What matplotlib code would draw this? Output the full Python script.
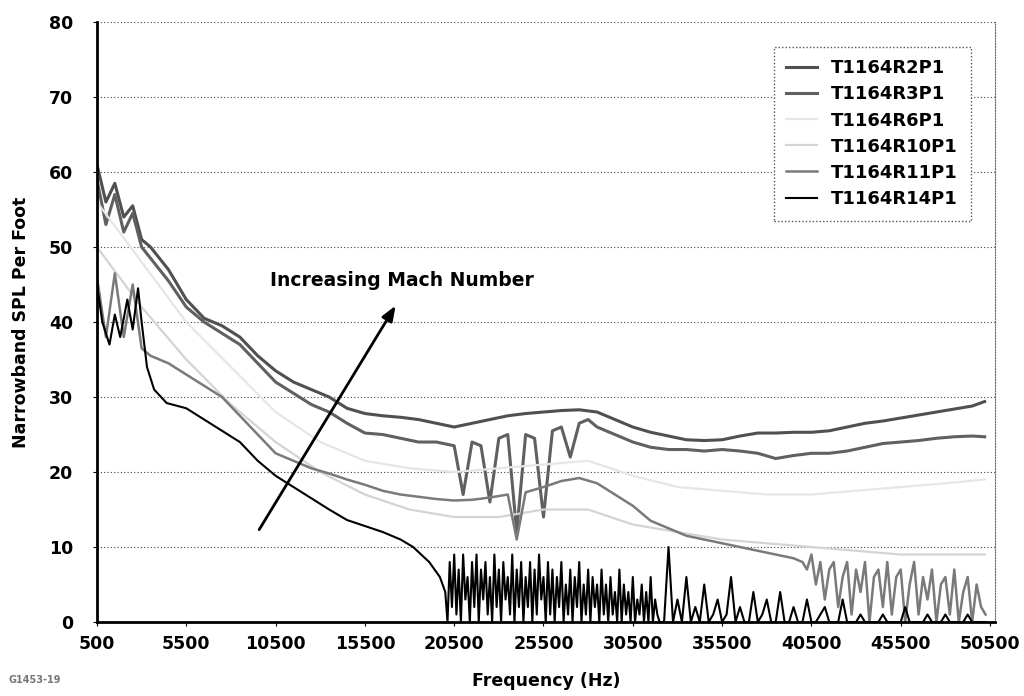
import numpy as np
import matplotlib
matplotlib.use("Agg")
import matplotlib.pyplot as plt

plt.rcParams['font.family'] = ['DejaVu Sans']
plt.rcParams['font.weight'] = 'bold'

# --- data (frequency in Hz, SPL) ---
f_top = [500, 1000, 1500, 2000, 2500, 3000, 3500, 4500, 5500, 6500, 7500, 8500, 9500,
         10500, 11500, 12500, 13500, 14500, 15500, 16500, 17500, 18500, 19500, 20500,
         21500, 22500, 23500, 24500, 25500, 26500, 27500, 28500, 29500, 30500, 31500,
         32500, 33500, 34500, 35500, 36500, 37500, 38500, 39500, 40500, 41500, 42500,
         43500, 44500, 45500, 46500, 47500, 48500, 49500, 50200]
r2p1 = [61, 56, 58.5, 54, 55.5, 51, 50, 47, 43, 40.5, 39.5, 38, 35.5,
        33.5, 32, 31, 30, 28.5, 27.8, 27.5, 27.3, 27, 26.5, 26,
        26.5, 27, 27.5, 27.8, 28, 28.2, 28.3, 28, 27, 26, 25.3,
        24.8, 24.3, 24.2, 24.3, 24.8, 25.2, 25.2, 25.3, 25.3, 25.5, 26,
        26.5, 26.8, 27.2, 27.6, 28, 28.4, 28.8, 29.4]

f_r3 = [500, 1000, 1500, 2000, 2500, 3000, 3500, 4500, 5500, 6500, 7500, 8500, 9500,
        10500, 11500, 12500, 13500, 14500, 15500, 16500, 17500, 18500, 19500, 20500,
        21000, 21500, 22000, 22500, 23000, 23500, 24000, 24500, 25000, 25500, 26000,
        26500, 27000, 27500, 28000, 28500, 29500, 30500, 31500, 32500, 33500, 34500,
        35500, 36500, 37500, 38500, 39500, 40500, 41500, 42500, 43500, 44500, 45500,
        46500, 47500, 48500, 49500, 50200]
r3p1 = [59, 53, 57, 52, 54.5, 50, 48.5, 45.5, 42, 40, 38.5, 37, 34.5,
        32, 30.5, 29, 28, 26.5, 25.2, 25, 24.5, 24, 24, 23.5,
        17, 24, 23.5, 16, 24.5, 25, 12, 25, 24.5, 14, 25.5,
        26, 22, 26.5, 27, 26, 25, 24, 23.3, 23, 23, 22.8,
        23, 22.8, 22.5, 21.8, 22.2, 22.5, 22.5, 22.8, 23.3, 23.8, 24,
        24.2, 24.5, 24.7, 24.8, 24.7]

f_light = [500, 3000, 5500, 8000, 10500, 13000, 15500, 18000, 20500, 23000, 25500,
           28000, 30500, 33000, 35500, 38000, 40500, 43000, 45500, 48000, 50200]
r6p1 = [56, 48, 40, 34, 28, 24, 21.5, 20.5, 20, 20.5, 21, 21.5, 19.5, 18, 17.5,
        17, 17, 17.5, 18, 18.5, 19]
r10p1 = [50, 42, 35, 29, 24, 20, 17, 15, 14, 14, 15, 15, 13, 12, 11, 10.5, 10,
         9.5, 9, 9, 9]

f_r11 = [500, 1000, 1500, 2000, 2500, 3000, 3500, 4500, 5500, 6500, 7500, 8500, 9500,
         10500, 11500, 12500, 13500, 14500, 15500, 16500, 17500, 18500, 19500, 20500,
         21500, 22500, 23500, 24000, 24500, 25500, 26500, 27500, 28500, 29500, 30500,
         31500, 32500, 33500, 34500, 35500, 36500, 37500, 38500, 39500]
r11_main = [46, 38, 46.5, 38, 45, 36.5, 35.5, 34.5, 33, 31.5, 30, 27.5, 25,
            22.5, 21.5, 20.5, 19.8, 19, 18.3, 17.5, 17, 16.7, 16.4, 16.2,
            16.3, 16.6, 17, 11, 17.3, 18, 18.8, 19.2, 18.5, 17, 15.5,
            13.5, 12.5, 11.5, 11, 10.5, 10, 9.5, 9, 8.5]
f_r11_tail = np.arange(40000, 50251, 250)
r11_tail = [8, 7, 9, 5, 8, 3, 7, 8, 2, 6, 8, 1, 7, 4, 8, 0, 6, 7, 2, 8, 1,
            6, 7, 0, 5, 8, 1, 6, 3, 7, 0, 5, 6, 1, 7, 0, 4, 6, 0, 5, 2, 1]

f_r14 = [500, 800, 1200, 1500, 1800, 2200, 2500, 2800, 3000, 3300, 3700, 4400, 5500,
         6300, 7500, 8500, 9500, 10500, 11500, 12500, 13500, 14500, 15500, 16500,
         17500, 18200, 19100, 19700]
r14_main = [45, 40, 37, 41, 38, 43, 39, 44.5, 40, 34, 31, 29.2, 28.5,
            27.3, 25.5, 24, 21.5, 19.5, 18, 16.5, 15, 13.6, 12.8, 12,
            11, 10, 8, 6]
f_r14_dense = np.arange(20000, 32001, 125)
r14_dense = [4, 0, 8, 2, 9, 1, 7, 0, 9, 3, 6, 0,
             8, 2, 9, 0, 7, 3, 8, 1, 6, 0, 9, 2,
             7, 0, 8, 3, 6, 1, 9, 0, 7, 2, 8, 0,
             6, 2, 8, 0, 7, 1, 9, 3, 6, 0, 8, 1,
             7, 0, 6, 2, 8, 0, 5, 1, 7, 0, 6, 2,
             8, 0, 5, 1, 7, 0, 6, 2, 5, 0, 7, 1,
             5, 0, 6, 1, 4, 0, 7, 0, 5, 1, 4, 0,
             6, 0, 3, 1, 5, 0, 4, 0, 6, 0, 3, 1,
             0]
f_r14_sparse = np.arange(32250, 50251, 250)
r14_sparse = [0, 10, 0, 3, 0, 6, 0, 2, 0, 5, 0, 1,
              3, 0, 1, 6, 0, 2, 0, 0, 4, 0, 1, 3,
              0, 0, 4, 0, 0, 2, 0, 0, 3, 0, 0, 1,
              2, 0, 0, 0, 3, 0, 0, 0, 1, 0, 0, 0,
              0, 1, 0, 0, 0, 0, 2, 0, 0, 0, 0, 1,
              0, 0, 0, 1, 0, 0, 0, 0, 1, 0, 0, 0,
              0]

x_ticks = [500, 5500, 10500, 15500, 20500, 25500, 30500, 35500, 40500, 45500, 50500]

fig = plt.figure(figsize=(10.24, 6.96), dpi=100)
ax = fig.add_axes([0.0947, 0.1063, 0.877, 0.862])

ax.plot(f_top, r2p1, color='#505050', lw=2.2, label='T1164R2P1')
ax.plot(f_r3, r3p1, color='#606060', lw=2.2, label='T1164R3P1')
ax.plot(f_light, r6p1, color='#e6e6e6', lw=1.6, label='T1164R6P1')
ax.plot(f_light, r10p1, color='#d4d4d4', lw=1.6, label='T1164R10P1')
ax.plot(list(f_r11) + list(f_r11_tail), r11_main + r11_tail,
        color='#7a7a7a', lw=1.8, label='T1164R11P1')
ax.plot(list(f_r14) + list(f_r14_dense) + list(f_r14_sparse),
        r14_main + r14_dense + r14_sparse,
        color='black', lw=1.5, label='T1164R14P1')

ax.set_xlim(500, 50780)
ax.set_ylim(0, 80)
ax.set_xticks(x_ticks)
ax.set_yticks(range(0, 81, 10))
ax.tick_params(axis='x', labelsize=12.5, length=3, direction='out', pad=6)
ax.tick_params(axis='y', labelsize=12.5, length=3, direction='out', pad=14)
for lab in ax.get_xticklabels() + ax.get_yticklabels():
    lab.set_fontweight('bold')

for yv in range(10, 81, 10):
    ax.axhline(yv, color='#444444', ls=(0, (1, 2)), lw=0.8, zorder=0)

ax.spines['left'].set_linewidth(2)
ax.spines['bottom'].set_linewidth(2)
ax.spines['top'].set_visible(False)
ax.spines['right'].set_linestyle((0, (1, 1.5)))
ax.spines['right'].set_color('#666666')

ax.set_xlabel('Frequency (Hz)', fontsize=12.5, fontweight='bold', labelpad=14)
ax.set_ylabel('Narrowband SPL Per Foot', fontsize=12.5, fontweight='bold', labelpad=14)

ax.annotate('', xy=(17300, 42.5), xytext=(9500, 12),
            arrowprops=dict(arrowstyle='-|>,head_length=0.9,head_width=0.35',
                            color='black', lw=2))
ax.text(10200, 45.5, 'Increasing Mach Number', fontsize=13.5, fontweight='bold',
        va='center', ha='left')

leg = ax.legend(loc='upper right', bbox_to_anchor=(0.977, 0.965), fontsize=13,
                handlelength=1.7, handletextpad=0.8, labelspacing=0.45, borderpad=0.7,
                borderaxespad=0.2, fancybox=False, framealpha=1)
leg.get_frame().set_edgecolor('#555555')
leg.get_frame().set_linestyle((0, (1, 1.5)))
for t in leg.get_texts():
    t.set_fontweight('bold')

fig.text(0.008, 0.018, 'G1453-19', fontsize=7, color='#777777')

fig.savefig('out.png', dpi=100)
